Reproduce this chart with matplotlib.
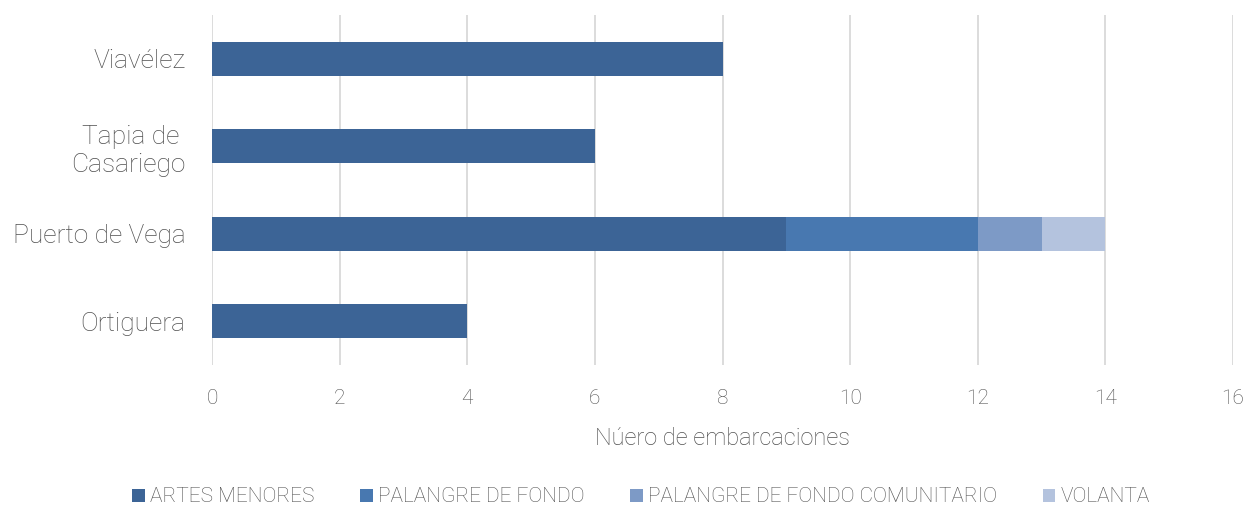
import matplotlib
matplotlib.use("Agg")
import matplotlib.pyplot as plt
from matplotlib.patches import Patch
import numpy as np

categories = ["Ortiguera", "Puerto de Vega", "Tapia de \nCasariego", "Viavélez"]
series_names = ["ARTES MENORES", "PALANGRE DE FONDO", "PALANGRE DE FONDO COMUNITARIO", "VOLANTA"]
artes_menores = [4, 9, 6, 8]
palangre_fondo = [0, 3, 0, 0]
palangre_comunitario = [0, 1, 0, 0]
volanta = [0, 1, 0, 0]
colors = ["#3C6496", "#4878B0", "#7D9AC6", "#B4C3DE"]
xticks = [0, 2, 4, 6, 8, 10, 12, 14, 16]

plt.rcParams['font.family'] = ['Roboto', 'DejaVu Sans']
plt.rcParams['font.weight'] = 'light'
txt = "#505050"

fig = plt.figure(figsize=(12.48, 5.08), dpi=100)
ax = fig.add_axes([212/1248, 1-365/508, (1233-212)/1248, 350/508])

y = np.arange(len(categories))
left = np.zeros(len(categories))
for vals, c, name in zip([artes_menores, palangre_fondo, palangre_comunitario, volanta], colors, series_names):
    ax.barh(y, vals, left=left, height=0.39, color=c, label=name, zorder=3)
    left += np.array(vals)

ax.set_xlim(0, 16)
ax.set_ylim(-0.5, 3.5)
ax.set_xticks(xticks)
ax.set_yticks(y)
ax.set_yticklabels(categories, fontsize=19, color=txt, fontweight='light', multialignment='right')
ax.tick_params(axis='x', labelsize=15, colors=txt, length=0, pad=17)
ax.tick_params(axis='y', length=0, pad=19)
for lab in ax.get_xticklabels():
    lab.set_fontweight('light')
ax.grid(axis='x', color="#D9D9D9", linewidth=1.3, zorder=0)
for s in ax.spines.values():
    s.set_visible(False)
ax.set_xlabel("Núero de embarcaciones", fontsize=17, color=txt, fontweight='light', labelpad=14)

handles = [Patch(facecolor=c, label=n) for c, n in zip(colors, series_names)]
fig.legend(handles=handles, loc='center', bbox_to_anchor=(641/1248, 1-497/508), ncol=4, frameon=False,
           prop={'size': 15, 'weight': 'light'}, labelcolor=txt, handlelength=0.6, handleheight=0.6,
           handletextpad=0.25, columnspacing=2.2)

fig.savefig("out.png", dpi=100)
